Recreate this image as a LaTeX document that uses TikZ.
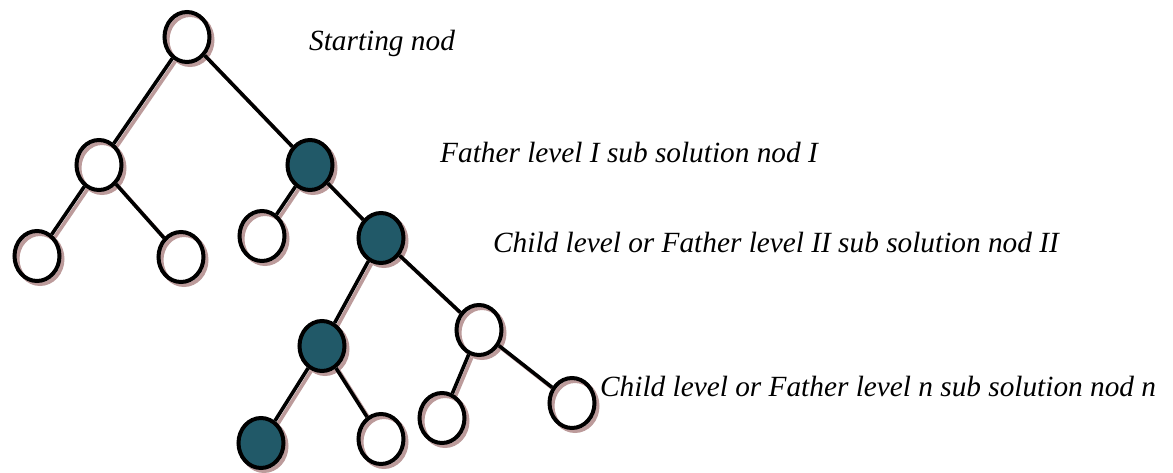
\documentclass[tikz,border=0pt]{standalone}
\usepackage{fontspec}
\setmainfont{Liberation Serif}
\usetikzlibrary{shapes.geometric}
\definecolor{tealfill}{HTML}{215968}
\definecolor{shadowc}{HTML}{BC9B9B}
\tikzset{
  treenode/.style={ellipse, draw=black, line width=4pt, minimum width=45pt, minimum height=50pt, inner sep=0pt},
  whitenode/.style={treenode},
  tealnode/.style={treenode, fill=tealfill},
  edgeline/.style={draw=black, line width=3.6pt},
  shadownode/.style={ellipse, draw=shadowc, line width=4pt, minimum width=45pt, minimum height=50pt, inner sep=0pt},
  label/.style={anchor=west, inner sep=0pt, font=\fontsize{29.3pt}{34pt}\selectfont\itshape}
}
\begin{document}
\begin{tikzpicture}[x=1pt, y=-1pt]
\useasboundingbox (0,0) rectangle (1173,472);
% positions
\coordinate (p0) at (187,37);
\coordinate (p1a) at (99,165);
\coordinate (p1b) at (310,165);
\coordinate (p2a) at (37,256);
\coordinate (p2b) at (181,257);
\coordinate (p2c) at (262,236);
\coordinate (p2d) at (381,238);
\coordinate (p3a) at (322,346);
\coordinate (p3b) at (479,330);
\coordinate (p4a) at (261,443);
\coordinate (p4b) at (381,439);
\coordinate (p4c) at (442,418);
\coordinate (p4d) at (572,403);
% shadow nodes
\begin{scope}[transform canvas={shift={(3,3)}}]
\foreach \p in {p0,p1a,p1b,p2a,p2b,p2c,p2d,p3a,p3b,p4a,p4b,p4c,p4d}
  \node[shadownode] (s\p) at (\p) {};
\draw[draw=shadowc, line width=3.6pt] (sp0) -- (sp1a) (sp0) -- (sp1b)
  (sp1a) -- (sp2a) (sp1a) -- (sp2b) (sp1b) -- (sp2c) (sp1b) -- (sp2d)
  (sp2d) -- (sp3a) (sp2d) -- (sp3b) (sp3a) -- (sp4a) (sp3a) -- (sp4b)
  (sp3b) -- (sp4c) (sp3b) -- (sp4d);
\end{scope}
% real nodes
\node[whitenode] (n0) at (p0) {};
\node[whitenode] (n1a) at (p1a) {};
\node[tealnode] (n1b) at (p1b) {};
\node[whitenode] (n2a) at (p2a) {};
\node[whitenode] (n2b) at (p2b) {};
\node[whitenode] (n2c) at (p2c) {};
\node[tealnode] (n2d) at (p2d) {};
\node[tealnode] (n3a) at (p3a) {};
\node[whitenode] (n3b) at (p3b) {};
\node[tealnode] (n4a) at (p4a) {};
\node[whitenode] (n4b) at (p4b) {};
\node[whitenode] (n4c) at (p4c) {};
\node[whitenode] (n4d) at (p4d) {};
\draw[edgeline] (n0) -- (n1a) (n0) -- (n1b)
  (n1a) -- (n2a) (n1a) -- (n2b) (n1b) -- (n2c) (n1b) -- (n2d)
  (n2d) -- (n3a) (n2d) -- (n3b) (n3a) -- (n4a) (n3a) -- (n4b)
  (n3b) -- (n4c) (n3b) -- (n4d);
% labels
\node[label] (t0) at (309,43) {Starting nod};
\node[label] (t1) at (440,153) {Father level I sub solution nod I};
\node[label] (t2) at (493,243) {Child level or Father level II sub solution nod II};
\node[label] (t3) at (600,386) {Child level or Father level n sub solution nod n};
\end{tikzpicture}
\end{document}
